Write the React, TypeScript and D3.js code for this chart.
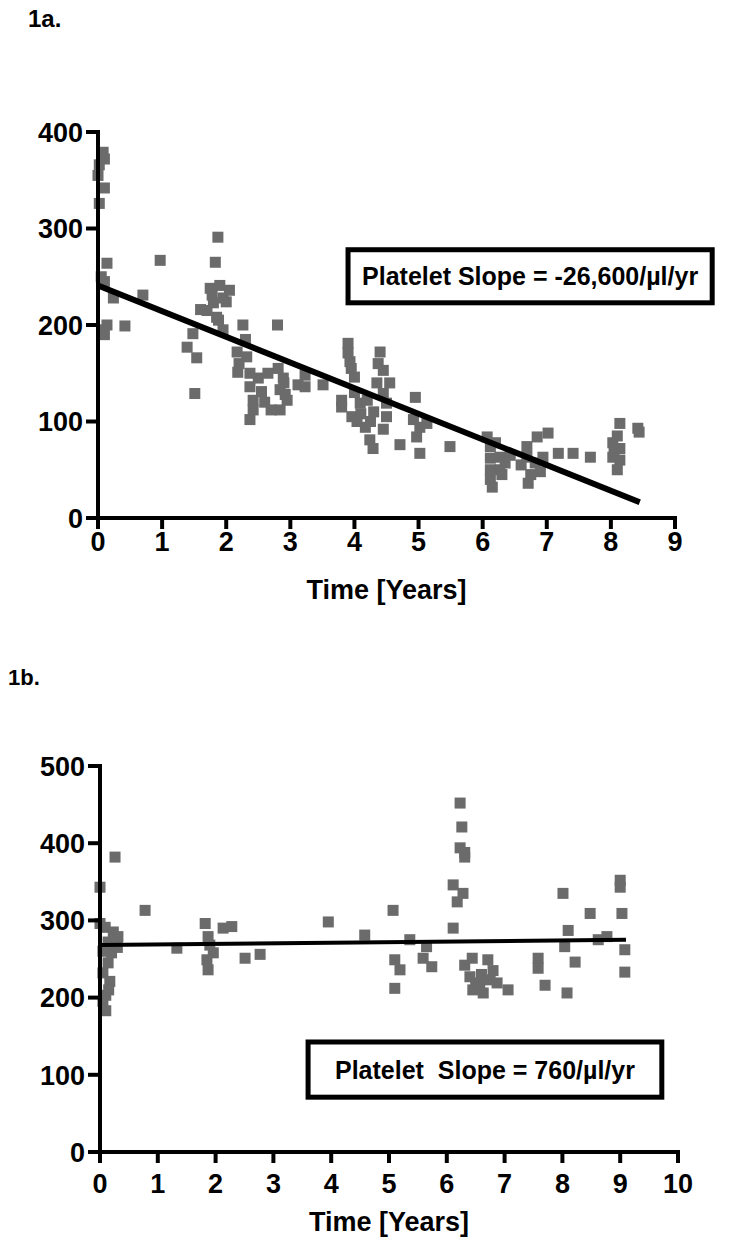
import React from "react";
import * as d3 from "d3";

// ---------- Data: panel 1a ----------
const aTime = [
  0.08, 0.1, 0.02, 0.0, 0.1, 0.02, 0.14, 0.1, 0.24, 0.14, 0.06, 0.42, 0.1, 0.05,
  0.7, 0.97,
  1.87, 1.83, 1.9, 1.78, 1.8, 1.6, 2.0, 1.7, 1.85, 1.95, 2.05, 1.75, 1.48, 1.39, 1.54, 1.51, 1.95, 1.88, 2.26, 2.8,
  2.17, 2.32, 2.18, 2.37, 2.37, 2.55, 2.42, 2.42, 2.37, 2.5, 2.6, 2.65, 2.81, 2.89, 2.84, 2.95, 2.84, 2.9, 2.92, 2.7, 2.3, 2.2,
  3.12, 3.23, 3.23, 3.51,
  3.9, 3.9, 3.93, 4.0, 3.8, 3.8, 3.96, 4.09, 4.2, 4.4, 4.37, 4.45, 4.35, 4.45, 4.5, 4.5, 4.04, 4.17, 4.24, 4.29, 4.0, 4.1, 4.3, 4.55, 3.95, 4.25, 4.45,
  4.71, 4.95, 4.92, 5.02, 4.97, 5.02, 5.13, 5.49,
  6.07, 6.12, 6.12, 6.12, 6.12, 6.15, 6.27, 6.27, 6.35, 6.43, 6.2, 6.3,
  6.69, 6.85, 7.02, 6.69, 6.82, 6.9, 6.71, 6.94, 6.75, 6.6,
  7.18, 7.41, 7.68,
  8.14, 8.42, 8.44, 8.03, 8.14, 8.03, 8.14, 8.1, 8.05, 8.1,
];
const aCount = [
  379, 372, 366, 355, 342, 326, 264, 245, 228, 200, 195, 199, 190, 250,
  231, 267,
  291, 265, 241, 231, 223, 216, 224, 215, 208, 228, 236, 238, 191, 177, 166, 129, 195, 205, 200, 200,
  172, 167, 151, 150, 136, 131, 122, 112, 102, 145, 120, 150, 155, 145, 133, 122, 112, 140, 128, 112, 185, 160,
  138, 148, 136, 138,
  181, 171, 162, 146, 122, 115, 105, 119, 122, 172, 160, 153, 140, 129, 119, 105, 100, 94, 81, 72, 130, 108, 110, 140, 155, 100, 92,
  76, 125, 102, 94, 84, 67, 98, 74,
  84, 74, 62, 50, 40, 32, 63, 50, 57, 65, 78, 45,
  74, 84, 88, 63, 57, 48, 36, 63, 45, 55,
  67, 67, 63,
  98, 93, 89, 78, 72, 63, 60, 50, 70, 85,
];

// ---------- Data: panel 1b ----------
const bTime = [
  0.26, 0.0, 0.78, 0.09, 0.23, 0.31, 0.14, 0.24, 0.2, 0.14, 0.05, 0.17, 0.1, 0.05, 0.1, 0.0, 0.3, 0.05, 0.15,
  1.33, 1.82, 1.87, 2.13, 2.28, 1.96, 1.85, 1.87, 2.51, 2.77, 1.9,
  3.95, 4.58, 5.07, 5.1, 5.19, 5.1, 5.36, 5.65, 5.59, 5.74,
  6.23, 6.26, 6.23, 6.31, 6.11, 6.28, 6.18, 6.11, 6.44, 6.31, 6.71, 6.4, 6.57, 6.75, 6.45, 6.63, 6.31, 6.5, 6.6, 6.87, 7.06, 6.8,
  7.58, 7.58, 7.7, 8.01, 8.1, 8.04, 8.22, 8.08, 8.48, 8.62, 8.77, 9.0, 9.0, 9.03, 9.08, 9.08,
];
const bCount = [
  382, 343, 313, 291, 285, 279, 272, 270, 258, 245, 232, 221, 203, 195, 183, 296, 265, 260, 210,
  264, 296, 279, 290, 292, 258, 249, 236, 251, 256, 268,
  298, 281, 313, 249, 236, 212, 275, 266, 251, 240,
  452, 421, 394, 382, 346, 335, 324, 290, 251, 242, 249, 227, 219, 223, 210, 206, 388, 215, 230, 219, 210, 235,
  251, 238, 216, 335, 287, 266, 246, 206, 309, 275, 279, 352, 343, 309, 262, 233,
];

// ---------- Axes / fits / labels ----------
const aXTicks = [0, 1, 2, 3, 4, 5, 6, 7, 8, 9];
const aYTicks = [0, 100, 200, 300, 400];
const bXTicks = [0, 1, 2, 3, 4, 5, 6, 7, 8, 9, 10];
const bYTicks = [0, 100, 200, 300, 400, 500];
const aFit = { intercept: 241, slope: -26.6, tEnd: 8.45 };
const bFit = { intercept: 268, slope: 0.76, tEnd: 9.1 };
const aLabel = "Platelet Slope = -26,600/µl/yr";
const bLabel = "Platelet  Slope = 760/µl/yr";
// annotation boxes in data units: [t0, t1, vTop, vBottom]
const aBox = [3.9, 9.58, 278, 223];
const bBox = [3.6, 9.72, 142.5, 71];

const FONT = "'Liberation Sans', Arial, Helvetica, sans-serif";
const GREY = "#6b6b6b";

type PanelProps = {
  times: number[];
  counts: number[];
  xTicks: number[];
  yTicks: number[];
  xRange: [number, number];
  yRange: [number, number];
  fit: { intercept: number; slope: number; tEnd: number };
  fitWidth: number;
  box: number[];
  label: string;
  title: string;
  titleX: number;
  titleY: number;
  titleSize: number;
  xLabelY: number;
  xTitleY: number;
};

function Panel(p: PanelProps) {
  const x = d3.scaleLinear().domain([p.xTicks[0], p.xTicks[p.xTicks.length - 1]]).range(p.xRange);
  const y = d3.scaleLinear().domain([p.yTicks[0], p.yTicks[p.yTicks.length - 1]]).range(p.yRange);
  const line = d3
    .line<number>()
    .x((t) => x(t))
    .y((t) => y(p.fit.intercept + p.fit.slope * t));
  const s = 11;
  const x0 = p.xRange[0];
  const y0 = p.yRange[0];
  const [b0, b1, bt, bb] = p.box;
  return (
    <g>
      <text x={p.titleX} y={p.titleY} fontFamily={FONT} fontWeight="bold" fontSize={p.titleSize}>
        {p.title}
      </text>
      {p.times.map((t, i) => (
        <rect key={i} x={x(t) - s / 2} y={y(p.counts[i]) - s / 2} width={s} height={s} fill={GREY} />
      ))}
      <path d={line([0, p.fit.tEnd]) || ""} stroke="#000" strokeWidth={p.fitWidth} fill="none" />
      {/* y axis */}
      <line x1={x0} x2={x0} y1={p.yRange[1] - 2} y2={y0 + 2} stroke="#000" strokeWidth={4} />
      {p.yTicks.map((v) => (
        <g key={"y" + v}>
          <line x1={x0 - 12} x2={x0} y1={y(v)} y2={y(v)} stroke="#000" strokeWidth={4} />
          <text x={x0 - 15} y={y(v)} dy="0.36em" textAnchor="end" fontFamily={FONT} fontWeight="bold" fontSize={27}>
            {v}
          </text>
        </g>
      ))}
      {/* x axis */}
      <line x1={x0 - 2} x2={p.xRange[1] + 2} y1={y0} y2={y0} stroke="#000" strokeWidth={4} />
      {p.xTicks.map((t) => (
        <g key={"x" + t}>
          <line x1={x(t)} x2={x(t)} y1={y0} y2={y0 + 11} stroke="#000" strokeWidth={4} />
          <text x={x(t)} y={p.xLabelY} dy="0.36em" textAnchor="middle" fontFamily={FONT} fontWeight="bold" fontSize={27}>
            {t}
          </text>
        </g>
      ))}
      <text
        x={(p.xRange[0] + p.xRange[1]) / 2}
        y={p.xTitleY}
        dy="0.36em"
        textAnchor="middle"
        fontFamily={FONT}
        fontWeight="bold"
        fontSize={27}
      >
        Time [Years]
      </text>
      {/* annotation box */}
      <rect
        x={x(b0)}
        y={y(bt)}
        width={x(b1) - x(b0)}
        height={y(bb) - y(bt)}
        fill="#fff"
        stroke="#000"
        strokeWidth={5}
      />
      <text
        x={(x(b0) + x(b1)) / 2}
        y={(y(bt) + y(bb)) / 2}
        dy="0.36em"
        textAnchor="middle"
        fontFamily={FONT}
        fontWeight="bold"
        fontSize={25}
        style={{ whiteSpace: "pre" }}
      >
        {p.label}
      </text>
    </g>
  );
}

export default function App() {
  return (
    <svg
      width={750}
      height={1250}
      viewBox="0 0 750 1250"
      style={{ position: "absolute", left: 0, top: 0, background: "#fff" }}
    >
      <rect width={750} height={1250} fill="#fff" />
      <Panel
        times={aTime}
        counts={aCount}
        xTicks={aXTicks}
        yTicks={aYTicks}
        xRange={[98, 675]}
        yRange={[518, 132]}
        fit={aFit}
        fitWidth={6}
        box={aBox}
        label={aLabel}
        title="1a."
        titleX={28}
        titleY={27}
        titleSize={24}
        xLabelY={541}
        xTitleY={589}
      />
      <Panel
        times={bTime}
        counts={bCount}
        xTicks={bXTicks}
        yTicks={bYTicks}
        xRange={[100, 678]}
        yRange={[1152, 766]}
        fit={bFit}
        fitWidth={4}
        box={bBox}
        label={bLabel}
        title="1b."
        titleX={8}
        titleY={685}
        titleSize={22}
        xLabelY={1183}
        xTitleY={1221}
      />
    </svg>
  );
}
